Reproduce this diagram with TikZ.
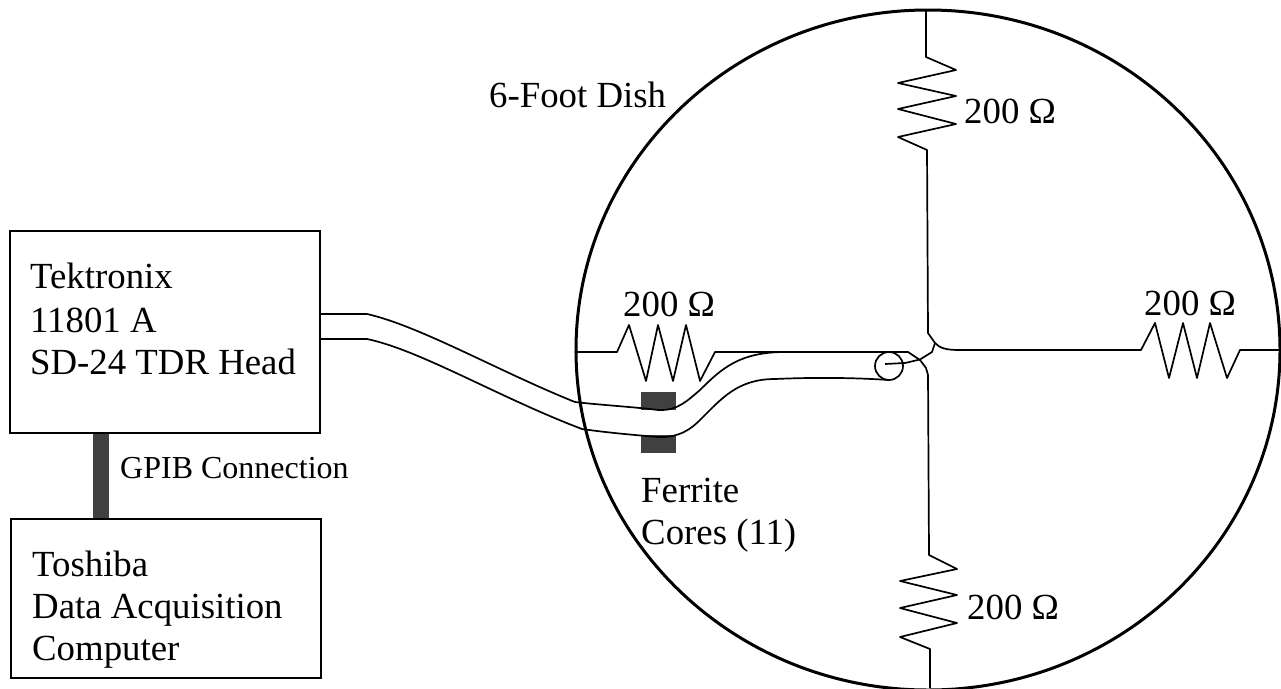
\documentclass[tikz,border=0pt]{standalone}
\usetikzlibrary{shapes.geometric}
\usepackage{fontspec}
\setmainfont{Liberation Serif}
\tikzset{
 lbl/.style={inner sep=0pt,anchor=base west,font=\fontsize{36.8}{42}\selectfont,align=left},
 wire/.style={draw=black,line width=1.7pt,line join=round},
 box/.style={draw=black,line width=2pt,minimum width=310pt,inner sep=0pt},
 core/.style={fill=black!75,draw=none,inner sep=0pt},
}
\begin{document}
\begin{tikzpicture}[x=1pt,y=-1pt]
\useasboundingbox (0,0) rectangle (1281,688);
\begin{scope}
\clip (0,0) rectangle (1281,688);
\coordinate (tA) at (320,314);
\coordinate (tB) at (320,339);
\node[core,minimum width=35pt,minimum height=18pt] (coreU) at (658.5,401) {};
\node[core,minimum width=35pt,minimum height=18pt] (coreL) at (658.5,444) {};
\node[core,minimum width=16pt,minimum height=85pt] (gpib) at (101,475.5) {};
\node[draw=black,line width=3pt,ellipse,minimum width=704pt,minimum height=680pt,inner sep=0pt] (dish) at (928,350) {};
\node[box,minimum height=202pt] (tek) at (165,332) {};
\node[box,minimum height=159pt] (tosh) at (166,598.5) {};
\node[draw=black,line width=1.7pt,circle,minimum size=28pt,inner sep=0pt] (coax) at (889,366) {};
\coordinate (hub) at (935,343);
% cable
\draw[wire] (tek.east|-tA) -- (367,314) .. controls (420,326) and (500,372) .. (575,402) .. controls (600,405) and (635,407) .. (658,410) .. controls (678,411) and (688,400) .. (700,390) .. controls (722,368) and (740,352) .. (785,352) -- (877,352);
\draw[wire] (tek.east|-tB) -- (367,339) .. controls (420,350) and (500,398) .. (582,429) .. controls (610,433) and (635,435) .. (658,437) .. controls (680,438) and (692,428) .. (700,420) .. controls (722,398) and (738,379) .. (775,379) .. controls (820,377) and (860,378) .. (889,380);
% left resistor, then on to the lower wire
\draw[wire] (dish.west|-0,352) -- (617,352) -- (629,325) -- (646,381) -- (658,325) -- (673,381) -- (686,325) -- (700,381) -- (715,352) -- (908,352) -- (920,360) -- (926,368) -- (928,375) -- (929,555) -- (957,569) -- (900,581) -- (957,595) -- (900,608) -- (957,623) -- (900,637) -- (930,649) -- (930,688);
% coax centre and the upper and right branches
\draw[wire] (885,364) -- (905,363) -- (920,359.5) -- (932,352) -- (hub) -- (928,333) -- (927,150) -- (898,137) -- (956,124) -- (898,109) -- (956,96) -- (898,83) -- (956,70) -- (926,57) -- (926,11);
\draw[wire] (hub) .. controls (940,348) and (945,350) .. (960,350) -- (1141,350) -- (1155,323) -- (1169,378) -- (1183,323) -- (1197,378) -- (1210,323) -- (1227,378) -- (1240,350) -- (1281,350);
\end{scope}
\node[lbl] at (30,288) {Tektronix};
\node[lbl] at (30,332) {11801 A};
\node[lbl] at (30,374) {SD-24 TDR Head};
\node[lbl] at (32,576) {Toshiba};
\node[lbl] at (32,618) {Data Acquisition};
\node[lbl] at (32,660) {Computer};
\node[lbl,font=\fontsize{32}{36}\selectfont] at (120,478) {GPIB Connection};
\node[lbl] at (489,107) {6-Foot Dish};
\node[lbl] at (641,502) {Ferrite};
\node[lbl] at (641,544) {Cores (11)};
\node[lbl] at (964,123) {200 Ω};
\node[lbl] at (623,316) {200 Ω};
\node[lbl] at (1144,315) {200 Ω};
\node[lbl] at (967,619) {200 Ω};
\end{tikzpicture}
\end{document}
